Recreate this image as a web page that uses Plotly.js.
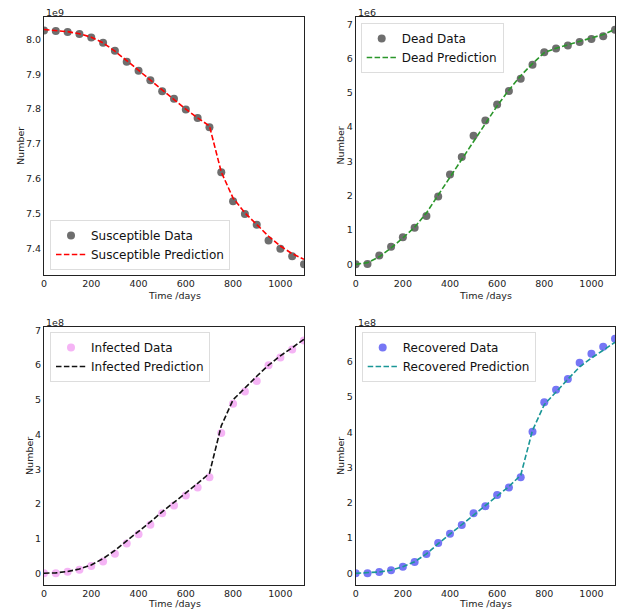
<!DOCTYPE html>
<html>
<head>
<meta charset="utf-8">
<script src="https://cdn.plot.ly/plotly-3.0.1.min.js"></script>
<style>html,body{margin:0;padding:0;background:#fff;}#chart{width:621px;height:612px;}</style>
</head>
<body>
<div id="chart"></div>
<script>
// Time in days
var days = [0,50,100,150,200,250,300,350,400,450,500,550,600,650,700,750,800,850,900,950,1000,1050,1100];

// Susceptible (units of 1e9)
var susceptibleData = [8.025,8.024,8.021,8.015,8.005,7.990,7.967,7.936,7.910,7.883,7.851,7.830,7.799,7.775,7.748,7.619,7.536,7.500,7.469,7.424,7.400,7.379,7.356];
var susceptiblePred = [8.028,8.026,8.022,8.016,8.006,7.990,7.966,7.939,7.911,7.884,7.856,7.828,7.800,7.775,7.752,7.620,7.545,7.503,7.468,7.436,7.408,7.386,7.370];

// Dead (units of 1e6)
var deadData = [0.00,0.01,0.26,0.51,0.79,1.07,1.41,1.98,2.62,3.13,3.75,4.19,4.66,5.05,5.41,5.82,6.18,6.29,6.38,6.48,6.57,6.65,6.84];
var deadPred = [0.00,0.05,0.22,0.48,0.77,1.08,1.50,2.02,2.55,3.07,3.60,4.13,4.62,5.08,5.50,5.85,6.17,6.30,6.40,6.50,6.60,6.70,6.85];

// Infected (units of 1e8)
var infectedData = [0.00,0.00,0.04,0.10,0.21,0.34,0.56,0.86,1.12,1.40,1.73,1.95,2.24,2.47,2.77,4.04,4.89,5.24,5.54,6.00,6.22,6.45,6.71];
var infectedPred = [0.00,0.01,0.05,0.12,0.24,0.42,0.66,0.93,1.20,1.48,1.77,2.04,2.32,2.59,2.88,4.25,5.00,5.35,5.68,6.00,6.27,6.50,6.75];

// Recovered (units of 1e8)
var recoveredData = [0.00,0.00,0.04,0.09,0.19,0.32,0.55,0.86,1.12,1.37,1.70,1.90,2.22,2.43,2.72,4.01,4.85,5.20,5.51,5.97,6.22,6.42,6.65];
var recoveredPred = [0.00,0.01,0.04,0.09,0.19,0.33,0.55,0.84,1.11,1.38,1.67,1.93,2.20,2.46,2.78,4.05,4.78,5.15,5.50,5.85,6.10,6.32,6.55];

var xTicks = [0,200,400,600,800,1000];

var W = 621, H = 612;
function px(x){ return x / W; }
function py(y){ return 1 - y / H; }

var FONT = 'DejaVu Sans, sans-serif';
var dash = '5.5px,2.4px';

function dataTrace(y, name, color, xa, ya, leg) {
  return {x: days, y: y, name: name, mode: 'markers', type: 'scatter',
    xaxis: xa, yaxis: ya, legend: leg,
    marker: {size: 8, color: color, line: {width: 0}}};
}
function predTrace(y, name, color, xa, ya, leg) {
  return {x: days, y: y, name: name, mode: 'lines', type: 'scatter',
    xaxis: xa, yaxis: ya, legend: leg,
    line: {color: color, width: 1.6, dash: dash}};
}

var traces = [
  dataTrace(susceptibleData, 'Susceptible Data', 'rgba(85,85,85,0.85)', 'x', 'y', 'legend'),
  predTrace(susceptiblePred, 'Susceptible Prediction', '#ff0000', 'x', 'y', 'legend'),
  dataTrace(deadData, 'Dead Data', 'rgba(85,85,85,0.85)', 'x2', 'y2', 'legend2'),
  predTrace(deadPred, 'Dead Prediction', '#2a962a', 'x2', 'y2', 'legend2'),
  dataTrace(infectedData, 'Infected Data', 'rgba(238,130,238,0.6)', 'x3', 'y3', 'legend3'),
  predTrace(infectedPred, 'Infected Prediction', '#111111', 'x3', 'y3', 'legend3'),
  dataTrace(recoveredData, 'Recovered Data', 'rgba(45,45,240,0.65)', 'x4', 'y4', 'legend4'),
  predTrace(recoveredPred, 'Recovered Prediction', '#1a9696', 'x4', 'y4', 'legend4')
];

function xaxis(dom, anchor) {
  return {domain: dom, anchor: anchor, range: [0, 1100], tickvals: xTicks,
    showgrid: false, zeroline: false, showline: true, mirror: true,
    linecolor: '#222', linewidth: 1, ticks: '', automargin: false,
    tickfont: {family: FONT, size: 9.5, color: '#222'}, fixedrange: true};
}
function yaxis(dom, anchor, range, dtick, fmt) {
  return {domain: dom, anchor: anchor, range: range, dtick: dtick, tick0: 0,
    tickformat: fmt, showgrid: false, zeroline: false, showline: true, mirror: true,
    linecolor: '#222', linewidth: 1, ticks: '', automargin: false,
    tickfont: {family: FONT, size: 9.5, color: '#222'}, fixedrange: true};
}

var dLeft = [px(44), px(304)], dRight = [px(355.7), px(615)];
var dTop = [py(275), py(17)], dBot = [py(585), py(327)];

function legendAt(x, y, yanchor) {
  return {x: x, y: y, xanchor: 'left', yanchor: yanchor, bgcolor: '#ffffff',
    bordercolor: '#dddddd', borderwidth: 1, font: {family: FONT, size: 12, color: '#111'},
    tracegroupgap: 0, itemwidth: 30};
}

function ann(text, x, y, opts) {
  var a = {text: text, x: x, y: y, xref: 'paper', yref: 'paper', showarrow: false,
    font: {family: FONT, size: 9.5, color: '#222'}, xanchor: 'center', yanchor: 'middle'};
  for (var k in opts) a[k] = opts[k];
  return a;
}

var layout = {
  width: W, height: H,
  margin: {l: 0, r: 0, t: 0, b: 0},
  paper_bgcolor: '#ffffff', plot_bgcolor: '#ffffff',
  showlegend: true,
  xaxis: xaxis(dLeft, 'y'),
  yaxis: yaxis(dTop, 'x', [7.325, 8.064], 0.1, '.1f'),
  xaxis2: xaxis(dRight, 'y2'),
  yaxis2: yaxis(dTop, 'x2', [-0.31, 7.21], 1, 'd'),
  xaxis3: xaxis(dLeft, 'y3'),
  yaxis3: yaxis(dBot, 'x3', [-0.34, 7.1], 1, 'd'),
  xaxis4: xaxis(dRight, 'y4'),
  yaxis4: yaxis(dBot, 'x4', [-0.33, 6.98], 1, 'd'),
  legend: legendAt(px(50), py(270), 'bottom'),
  legend2: legendAt(px(360.7), py(23), 'top'),
  legend3: legendAt(px(50), py(332), 'top'),
  legend4: legendAt(px(361.7), py(332), 'top'),
  annotations: [
    ann('1e9', px(44), py(12.5), {xanchor: 'left'}),
    ann('1e6', px(355.7), py(12.5), {xanchor: 'left'}),
    ann('1e8', px(44), py(322), {xanchor: 'left'}),
    ann('1e8', px(355.7), py(322), {xanchor: 'left'}),
    ann('Number', px(20), py(146), {textangle: -90}),
    ann('Number', px(339.5), py(146), {textangle: -90}),
    ann('Number', px(29), py(456), {textangle: -90}),
    ann('Number', px(340), py(456), {textangle: -90}),
    ann('Time /days', px(174), py(295)),
    ann('Time /days', px(485.5), py(295)),
    ann('Time /days', px(174), py(603.5)),
    ann('Time /days', px(485.5), py(603.5))
  ]
};

Plotly.newPlot('chart', traces, layout, {displayModeBar: false, staticPlot: true});
</script>
</body>
</html>
